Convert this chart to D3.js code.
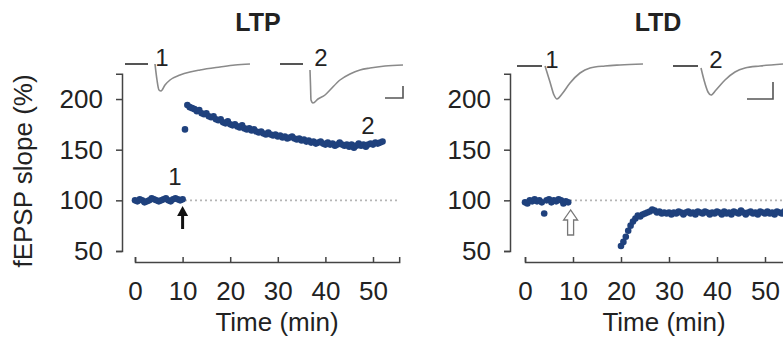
<!DOCTYPE html>
<html><head><meta charset="utf-8">
<script src="https://cdn.jsdelivr.net/npm/d3@7"></script>
<style>
body{margin:0;background:#fff}
text{font-family:"Liberation Sans",Arial,Helvetica,sans-serif;fill:#222}
</style></head>
<body><svg id="c" width="783" height="343"></svg>
<script>
// ---------------- data ----------------
const yTicks = [50, 100, 150, 200];
const xTicks = [0, 10, 20, 30, 40, 50];
const panelTitles = ["LTP", "LTD"];

// LTP (min, % of baseline)
const ltpTimes = [0,0.5,1,1.5,2,2.5,3,3.5,4,4.5,5,5.5,6,6.5,7,7.5,8,8.5,9,9.5,10,
  10.5,11,11.5,12,12.5,13,13.5,14,14.5,15,15.5,16,16.5,17,17.5,18,18.5,19,19.5,20,
  20.5,21,21.5,22,22.5,23,23.5,24,24.5,25,25.5,26,26.5,27,27.5,28,28.5,29,29.5,30,
  30.5,31,31.5,32,32.5,33,33.5,34,34.5,35,35.5,36,36.5,37,37.5,38,38.5,39,39.5,40,
  40.5,41,41.5,42,42.5,43,43.5,44,44.5,45,45.5,46,46.5,47,47.5,48,48.5,49,49.5,50,
  50.5,51,51.5,52];
const ltpValues = [100,99,101,100,98,99,100,102,101,100,99,100,101,102,100,99,101,102,101,100,101,
  170,194,192,191,190,188,189,186,185,186,183,182,183,180,179,180,177,176,178,175,
  174,175,173,172,174,171,170,171,169,170,168,167,168,166,165,167,165,164,165,163,
  164,162,163,161,162,163,161,160,161,159,160,158,159,157,158,156,157,158,156,155,
  157,155,156,154,155,157,155,154,155,153,155,152,154,156,154,155,153,155,156,155,
  157,156,157,158];

// LTD (min, % of baseline)
const ltdTimes = [0,0.5,1,1.5,2,2.5,3,3.5,4,4.5,5,5.5,6,6.5,7,7.5,8,8.5,9,
  20,20.5,21,21.5,22,22.5,23,23.5,24,24.5,25,25.5,26,26.5,27,27.5,28,28.5,29,29.5,30,
  30.5,31,31.5,32,32.5,33,33.5,34,34.5,35,35.5,36,36.5,37,37.5,38,38.5,39,39.5,40,
  40.5,41,41.5,42,42.5,43,43.5,44,44.5,45,45.5,46,46.5,47,47.5,48,48.5,49,49.5,50,
  50.5,51,51.5,52,52.5,53,53.5,54,54.5,55,55.5,56];
const ltdValues = [98,97,100,99,101,99,100,98,87,100,101,98,100,99,101,100,97,99,98,
  55,59,64,70,75,79,82,85,84,86,87,88,89,91,90,88,89,87,88,87,88,
  86,88,87,89,88,86,88,89,87,88,86,89,88,87,89,88,86,88,87,89,
  88,86,89,87,88,86,89,88,87,90,88,86,88,89,87,88,86,89,88,87,
  89,87,88,86,89,88,87,89,88,87,89,88];

// inset traces: [ms, mV]
const trLTP1Base = [[0,0],[4.6,0]];
const trLTP1 = [[6,0],[6.4,-0.8],[6.8,-1.3],[7.2,-1.35],[8,-1.05],[9,-0.8],[11,-0.55],[13,-0.4],[15,-0.3],[19,-0.15],[22,-0.05],[25,0]];
const trLTP2Base = [[0,0],[4.6,0]];
const trLTP2 = [[6,-0.3],[6.1,-1.05],[6.2,-1.8],[6.6,-1.95],[7.6,-1.75],[9,-1.55],[10,-1.3],[12,-0.8],[14,-0.5],[16,-0.3],[18,-0.2],[21,-0.1],[24.6,-0.05]];
const trLTD1Base = [[0,0],[5,0]];
const trLTD1 = [[5.6,0],[6.6,-0.8],[7.4,-1.45],[8,-1.65],[9,-1.4],[10.6,-0.85],[12.6,-0.35],[14.6,-0.1],[17.6,0],[20.6,0.05],[25.2,0.1]];
const trLTD2Base = [[0,0],[5,0]];
const trLTD2 = [[5.6,-0.1],[6.2,-0.7],[7,-1.3],[7.6,-1.45],[8.6,-1.2],[10.4,-0.7],[12.4,-0.3],[14.4,-0.1],[17.4,0],[22,0.1]];
// scale bars [ms, mV]
const scaleBarLTP = [3.6, 0.6];
const scaleBarLTD = [5.2, 0.85];

// ---------------- drawing ----------------
const svg = d3.select("#c");
const dotColor = "#1f417d";
const FONT = '"Liberation Sans",Arial,sans-serif';

const panels = [
  {title:panelTitles[0], times:ltpTimes, values:ltpValues, xr:[135, 135+55.5*4.76], xd:[0,55.5], axisX:122, titleX:258,
   arrowT:10, solid:true, traces:[[trLTP1Base,trLTP1,125,64,"1",162],[trLTP2Base,trLTP2,280,64,"2",321]],
   bar:scaleBarLTP, barX:403, barY:98, lab1:[175,177], lab2:[368,126], xlabX:277},
  {title:panelTitles[1], times:ltdTimes, values:ltdValues, xr:[525, 525+60*4.8], xd:[0,60], axisX:510, titleX:658,
   arrowT:9.5, solid:false, traces:[[trLTD1Base,trLTD1,517,66,"1",552],[trLTD2Base,trLTD2,673,66,"2",716]],
   bar:scaleBarLTD, barX:773, barY:99, xlabX:664}
];

panels.forEach((p,i) => {
  const g = svg.append("g");
  const x = d3.scaleLinear().domain(p.xd).range(p.xr);
  const y = d3.scaleLinear().domain([50, 225]).range([251, 73.7]);

  // dotted reference line
  g.append("line").attr("x1", x(0)).attr("x2", i===0 ? x(55.5) : 783)
    .attr("y1", y(100)).attr("y2", y(100))
    .attr("stroke", "#b5b5b5").attr("stroke-width", 1.6).attr("stroke-dasharray", "2,3");

  // y axis
  const ya = g.append("g").attr("transform", `translate(${p.axisX},0)`)
    .call(d3.axisLeft(y).tickValues(yTicks).tickSizeInner(6).tickSizeOuter(6).tickPadding(13));
  ya.selectAll("path,line").attr("stroke", "#444").attr("stroke-width", 1.5);
  ya.selectAll("text").attr("font-size", 26).style("font-family", FONT).attr("fill", "#222");

  // x axis
  const xa = g.append("g").attr("transform", `translate(0,262)`)
    .call(d3.axisBottom(x).tickValues(xTicks).tickSizeInner(-5).tickSizeOuter(-5).tickPadding(20));
  xa.selectAll("path,line").attr("stroke", "#444").attr("stroke-width", 1.5);
  xa.selectAll("text").attr("font-size", 26).style("font-family", FONT).attr("fill", "#222");

  g.append("text").attr("x", p.xlabX).attr("y", 331).attr("text-anchor", "middle")
    .attr("font-size", 26).text("Time (min)");

  // title
  g.append("text").attr("x", p.titleX).attr("y", 31).attr("text-anchor", "middle")
    .attr("font-size", 25).attr("font-weight", "bold").attr("fill", "#111").text(p.title);

  // data points
  g.selectAll("circle").data(p.times.map((t,k)=>[t,p.values[k]])).join("circle")
    .attr("cx", d=>x(d[0])).attr("cy", d=>y(d[1])).attr("r", 3.3).attr("fill", dotColor);

  // arrow
  const ax = x(p.arrowT);
  if (p.solid) {
    g.append("line").attr("x1", ax).attr("x2", ax).attr("y1", 213).attr("y2", 229)
      .attr("stroke", "#111").attr("stroke-width", 3);
    g.append("path").attr("d", `M${ax},206 L${ax-5.5},216 L${ax+5.5},216 Z`).attr("fill", "#111");
  } else {
    g.append("path")
      .attr("d", `M${ax},210 L${ax-7},220 L${ax-3},220 L${ax-3},235 L${ax+3},235 L${ax+3},220 L${ax+7},220 Z`)
      .attr("fill", "#fff").attr("stroke", "#777").attr("stroke-width", 1.3);
  }

  // inset traces
  p.traces.forEach(tr => {
    const [base, resp, ox, oy, lab, labX] = tr;
    const tx = d3.scaleLinear().domain([0, 1]).range([ox, ox + 5]);
    const ty = d3.scaleLinear().domain([0, 1]).range([oy, oy - 20]);
    const line = d3.line().x(d=>tx(d[0])).y(d=>ty(d[1])).curve(d3.curveMonotoneX);
    g.append("path").attr("d", d3.line().x(d=>tx(d[0])).y(d=>ty(d[1]))(base))
      .attr("stroke", "#555").attr("stroke-width", 2).attr("fill", "none");
    g.append("path").attr("d", line(resp))
      .attr("stroke", "#8a8a8a").attr("stroke-width", 1.6).attr("fill", "none");
    g.append("text").attr("x", labX).attr("y", oy + 2).attr("text-anchor", "middle")
      .attr("font-size", 24).text(lab);
  });

  // scale bar
  const bw = p.bar[0] * 5, bh = p.bar[1] * 20;
  g.append("path").attr("d", `M${p.barX - bw},${p.barY} H${p.barX} V${p.barY - bh}`)
    .attr("stroke", "#555").attr("stroke-width", 1.6).attr("fill", "none");

  // data labels
  if (p.lab1) {
    g.append("text").attr("x", p.lab1[0]).attr("y", p.lab1[1] + 8).attr("text-anchor", "middle")
      .attr("font-size", 24).text("1");
    g.append("text").attr("x", p.lab2[0]).attr("y", p.lab2[1] + 8).attr("text-anchor", "middle")
      .attr("font-size", 24).text("2");
  }
});

// y label
svg.append("text").attr("transform", "translate(23,171) rotate(-90)")
  .attr("text-anchor", "middle").attr("dy", "0.35em").attr("font-size", 26).text("fEPSP slope (%)");
</script>
</body></html>
